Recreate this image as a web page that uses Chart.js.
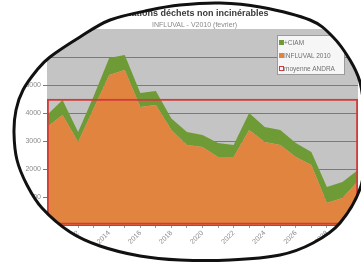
<!DOCTYPE html>
<html lang="fr">
<head>
  <meta charset="UTF-8">
  <title>Évacuations déchets non incinérables</title>
  <script src="https://cdn.jsdelivr.net/npm/chart.js"></script>
  <style>
    html, body {
      margin: 0;
      padding: 0;
      background: #fff;
    }

    body {
      width: 361px;
      height: 263px;
      overflow: hidden;
      position: relative;
      font-family: "Liberation Sans", Arial, sans-serif;
    }

    .titre {
      position: absolute;
      left: 105px;
      top: 8px;
      font-size: 9px;
      font-weight: bold;
      color: #3a3a3a;
      white-space: nowrap;
    }

    .sous-titre {
      position: absolute;
      left: 152px;
      top: 21px;
      font-size: 7px;
      color: #8a8a8a;
      white-space: nowrap;
    }

    .legende {
      position: absolute;
      left: 277px;
      top: 35px;
      width: 68px;
      height: 40px;
      box-sizing: border-box;
      background: #f6f6f6;
      border: 1px solid #9a9a9a;
      padding: 3px 0 0 2px;
      font-size: 6.5px;
      color: #707070;
    }

    .legende div {
      height: 13px;
      line-height: 8px;
      white-space: nowrap;
    }

    .legende span {
      display: inline-block;
      width: 3px;
      height: 3px;
      margin-right: 1px;
      vertical-align: 1px;
    }

    canvas {
      position: absolute;
      left: 0;
      top: 0;
    }

    #cadre {
      pointer-events: none;
    }
  </style>
</head>
<body>
<canvas id="graphe" width="361" height="263"></canvas>
<div class="titre">Évacuations déchets non incinérables</div>
<div class="sous-titre">INFLUVAL - V2010 (fevrier)</div>
<div class="legende" id="legende"></div>
<!-- le contour ovale au feutre, par-dessus tout le reste -->
<canvas id="cadre" width="361" height="263"></canvas>

<script>
  // données
  const annees = ['2010', '2011', '2012', '2013', '2014', '2015', '2016', '2017', '2018', '2019', '2020',
    '2021', '2022', '2023', '2024', '2025', '2026', '2027', '2028', '2029', '2030'];
  const influval = [3500, 3930, 2960, 4160, 5360, 5540, 4210, 4290, 3390, 2860, 2790,
    2430, 2430, 3390, 2960, 2860, 2430, 2140, 790, 960, 1570];
  const ciam = [430, 530, 360, 440, 600, 530, 500, 500, 410, 460, 420,
    500, 430, 610, 540, 530, 500, 470, 570, 580, 390];
  const moyenneAndra = [4500];
  const yMax = 7000;
  const yPas = 1000;

  const couleurs = {
    influval: '#e0843f',
    ciam: '#6f9b37',
    andra: '#d43a3a'
  };

  Chart.defaults.font.family = '"Liberation Sans", Arial, sans-serif';

  // fond gris de la zone de tracé (style Excel)
  const fondGris = {
    id: 'fondGris',
    beforeDraw(chart) {
      const { ctx, chartArea: a } = chart;
      ctx.save();
      ctx.fillStyle = '#c4c4c4';
      ctx.fillRect(a.left, a.top, a.width, a.height);
      ctx.restore();
    }
  };

  const ctx = document.getElementById('graphe').getContext('2d');
  const chart = new Chart(ctx, {
    type: 'line',
    data: {
      labels: annees,
      datasets: [
        {
          label: 'INFLUVAL 2010',
          data: influval,
          backgroundColor: couleurs.influval,
          borderWidth: 0,
          fill: 'origin',
          pointRadius: 0,
          tension: 0,
          order: 1
        },
        {
          label: '+CIAM',
          data: ciam,
          backgroundColor: couleurs.ciam,
          borderWidth: 0,
          fill: '-1',
          pointRadius: 0,
          tension: 0,
          order: 1
        },
        {
          // la moyenne est un grand rectangle sur toute la largeur
          type: 'bar',
          label: 'moyenne ANDRA',
          data: moyenneAndra,
          xAxisID: 'x2',
          grouped: false,
          backgroundColor: 'rgba(0,0,0,0)',
          borderColor: couleurs.andra,
          borderWidth: 1.5,
          borderSkipped: false,
          barPercentage: 1,
          categoryPercentage: 1,
          order: 0
        }
      ]
    },
    options: {
      responsive: false,
      animation: false,
      layout: { padding: { top: 29, right: 3, left: 0, bottom: 0 } },
      plugins: {
        legend: { display: false },
        title: { display: false },
        tooltip: { enabled: false }
      },
      scales: {
        x: {
          type: 'category',
          offset: false,
          border: { display: true, color: '#a0522d' },
          grid: { drawOnChartArea: false, tickLength: 3, color: '#999' },
          ticks: {
            autoSkip: false,
            minRotation: 45,
            maxRotation: 45,
            padding: 1,
            color: '#8a8a8a',
            font: { size: 7 },
            callback: (v, i) => (Number(annees[i]) % 2 === 0 ? annees[i] : '')
          },
          afterFit(s) {
            s.height = 38;
            s.paddingLeft = 0;
            s.paddingRight = 0;
          }
        },
        x2: {
          type: 'category',
          labels: ['ANDRA'],
          offset: true,
          display: false
        },
        y: {
          stacked: true,
          min: 0,
          max: yMax,
          border: { display: false },
          grid: {
            tickLength: 4,
            color: c => (c.tick && c.tick.value === yMax ? 'rgba(0,0,0,0)' : '#7a7a7a')
          },
          ticks: {
            stepSize: yPas,
            padding: 2,
            color: '#8a8a8a',
            font: { size: 7 },
            callback: v => String(v)
          },
          afterFit(s) {
            s.width = 47;
            s.paddingTop = 0;
            s.paddingBottom = 0;
          }
        }
      }
    },
    plugins: [fondGris]
  });

  // légende à la manière d'Excel, en haut à droite de la zone de tracé
  const entrees = [
    { texte: '+CIAM', fond: couleurs.ciam, bord: couleurs.ciam },
    { texte: 'INFLUVAL 2010', fond: couleurs.influval, bord: couleurs.influval },
    { texte: 'moyenne ANDRA', fond: '#f6f6f6', bord: couleurs.andra }
  ];
  document.getElementById('legende').innerHTML = entrees.map(e =>
    `<div><span style="background:${e.fond};outline:1px solid ${e.bord}"></span>${e.texte}</div>`
  ).join('');

  const contour = [[37, 70], [50, 57], [80, 37], [110, 20], [150, 10], [180, 5], [220, 3], [260, 7],
    [310, 20], [333, 37], [350, 60], [360, 82], [364, 110], [365, 145], [361, 186], [340, 223],
    [313, 243], [280, 255], [230, 260], [180, 260], [140, 256], [100, 246], [70, 232], [42, 208],
    [27, 185], [17, 160], [14, 133], [16, 110], [23, 90]];

  // courbe fermée lissée (Catmull-Rom)
  function ovaleLisse(pts) {
    const p = new Path2D();
    const n = pts.length;
    p.moveTo(pts[0][0], pts[0][1]);
    for (let i = 0; i < n; i++) {
      const p0 = pts[(i - 1 + n) % n], p1 = pts[i], p2 = pts[(i + 1) % n], p3 = pts[(i + 2) % n];
      p.bezierCurveTo(
        p1[0] + (p2[0] - p0[0]) / 6, p1[1] + (p2[1] - p0[1]) / 6,
        p2[0] - (p3[0] - p1[0]) / 6, p2[1] - (p3[1] - p1[1]) / 6,
        p2[0], p2[1]
      );
    }
    p.closePath();
    return p;
  }

  const cadre = document.getElementById('cadre').getContext('2d');
  const ovale = ovaleLisse(contour);
  const masque = new Path2D();
  masque.rect(0, 0, 361, 263);
  masque.addPath(ovale);
  cadre.fillStyle = '#fff';
  cadre.fill(masque, 'evenodd');
  cadre.lineWidth = 3;
  cadre.strokeStyle = '#111';
  cadre.stroke(ovale);
</script>
</body>
</html>
